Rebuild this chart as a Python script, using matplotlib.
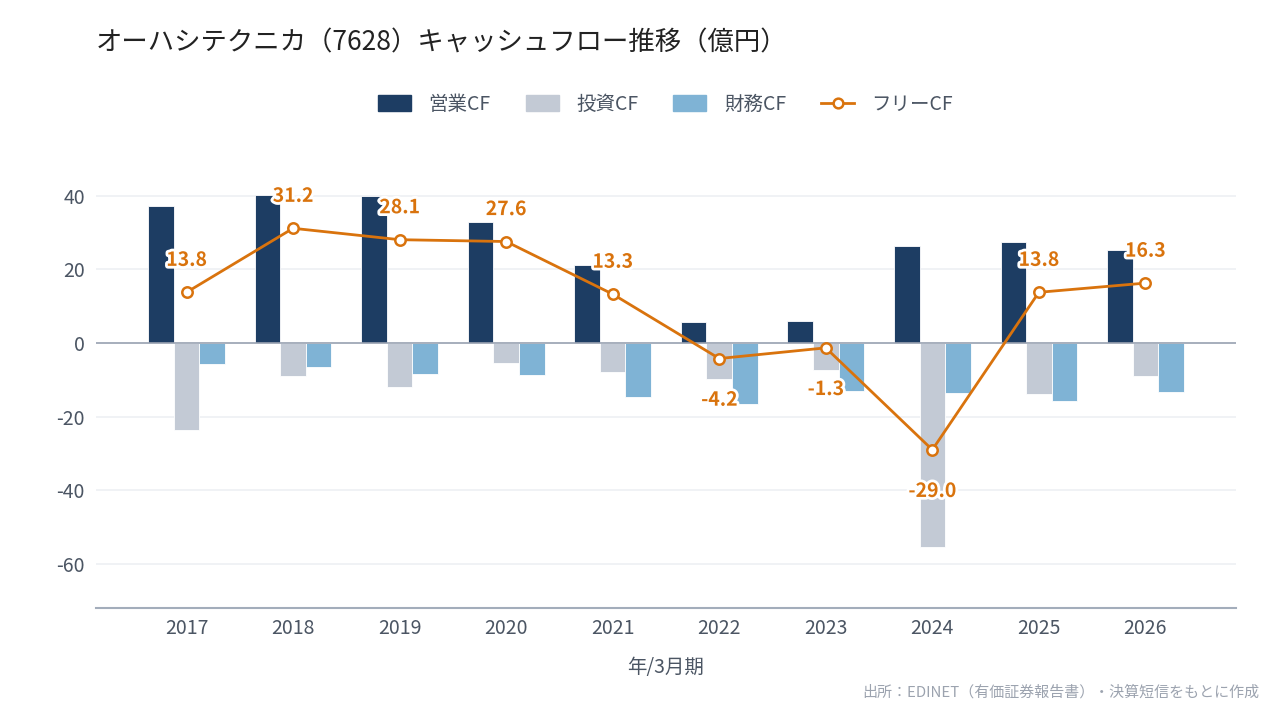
import matplotlib
matplotlib.use('Agg')
import matplotlib.pyplot as plt
import matplotlib.patheffects as pe
from matplotlib.patches import Patch
from matplotlib.lines import Line2D
import numpy as np

plt.rcParams['font.family'] = ['Noto Sans CJK JP', 'DejaVu Sans']
plt.rcParams['axes.unicode_minus'] = False

years = ['2017', '2018', '2019', '2020', '2021', '2022', '2023', '2024', '2025', '2026']
operating_cf = [37.3, 40.2, 40.0, 33.0, 21.2, 5.7, 6.0, 26.4, 27.6, 25.3]
investing_cf = [-23.5, -9.0, -11.9, -5.4, -7.9, -9.9, -7.3, -55.4, -13.8, -9.0]
financing_cf = [-5.7, -6.5, -8.4, -8.7, -14.7, -16.6, -13.1, -13.6, -15.8, -13.3]
free_cf = [13.8, 31.2, 28.1, 27.6, 13.3, -4.2, -1.3, -29.0, 13.8, 16.3]

C_OP = '#1d3d63'
C_INV = '#c3cad5'
C_FIN = '#7fb3d5'
C_FREE = '#d9730d'
C_TEXT = '#4b5563'

fig = plt.figure(figsize=(12.8, 7.2), dpi=100)
ax = fig.add_axes([0.075, 0.1556, 0.8906, 0.6234])

x = np.arange(len(years))
w = 0.24
ax.bar(x - w, operating_cf, w, color=C_OP, edgecolor='white', linewidth=0.6, zorder=2)
ax.bar(x, investing_cf, w, color=C_INV, edgecolor='white', linewidth=0.6, zorder=2)
ax.bar(x + w, financing_cf, w, color=C_FIN, edgecolor='white', linewidth=0.6, zorder=2)
ax.plot(x, free_cf, color=C_FREE, linewidth=2.0, marker='o', markersize=7.5,
        markerfacecolor='white', markeredgecolor=C_FREE, markeredgewidth=1.8, zorder=4)

for xi, v in zip(x, free_cf):
    dy = 23 if v >= 0 else -30
    ax.annotate(f'{v:.1f}', (xi, v), xytext=(0, dy), textcoords='offset points',
                ha='center', va='center', fontsize=14, fontweight='bold', color=C_FREE,
                zorder=5, path_effects=[pe.withStroke(linewidth=4, foreground='white')])

ax.set_xlim(-0.85, 9.85)
ax.set_ylim(-72, 50)
ax.set_yticks([-60, -40, -20, 0, 20, 40])
ax.set_xticks(x)
ax.set_xticklabels(years)
ax.grid(axis='y', color='#eef0f3', linewidth=1.2, zorder=0)
ax.axhline(0, color='#9aa3b2', linewidth=1.2, zorder=3)
for s in ['top', 'right', 'left']:
    ax.spines[s].set_visible(False)
ax.spines['bottom'].set_color('#a3adbb')
ax.spines['bottom'].set_linewidth(1.5)
ax.tick_params(axis='both', length=0, labelsize=14, colors=C_TEXT)
ax.tick_params(axis='x', pad=7)
ax.tick_params(axis='y', pad=8)
ax.set_xlabel('年/3月期', fontsize=14, color=C_TEXT, labelpad=13)

handles = [Patch(color=C_OP), Patch(color=C_INV), Patch(color=C_FIN),
           Line2D([0], [0], color=C_FREE, linewidth=2, marker='o', markersize=7,
                  markerfacecolor='white', markeredgecolor=C_FREE, markeredgewidth=1.8)]
labels = ['営業CF', '投資CF', '財務CF', 'フリーCF']
fig.legend(handles, labels, loc='center', bbox_to_anchor=(0.52, 0.855), ncol=4,
           frameon=False, fontsize=14, labelcolor=C_TEXT, handlelength=1.7,
           handleheight=0.9, columnspacing=1.8, handletextpad=0.9)

fig.text(0.075, 0.94, 'オーハシテクニカ（7628）キャッシュフロー推移（億円）',
         fontsize=19, color='#222222', ha='left', va='center')
fig.text(0.984, 0.039, '出所：EDINET（有価証券報告書）・決算短信をもとに作成',
         fontsize=10.8, color='#9ca3af', ha='right', va='center')

fig.savefig('out.png', dpi=100)
